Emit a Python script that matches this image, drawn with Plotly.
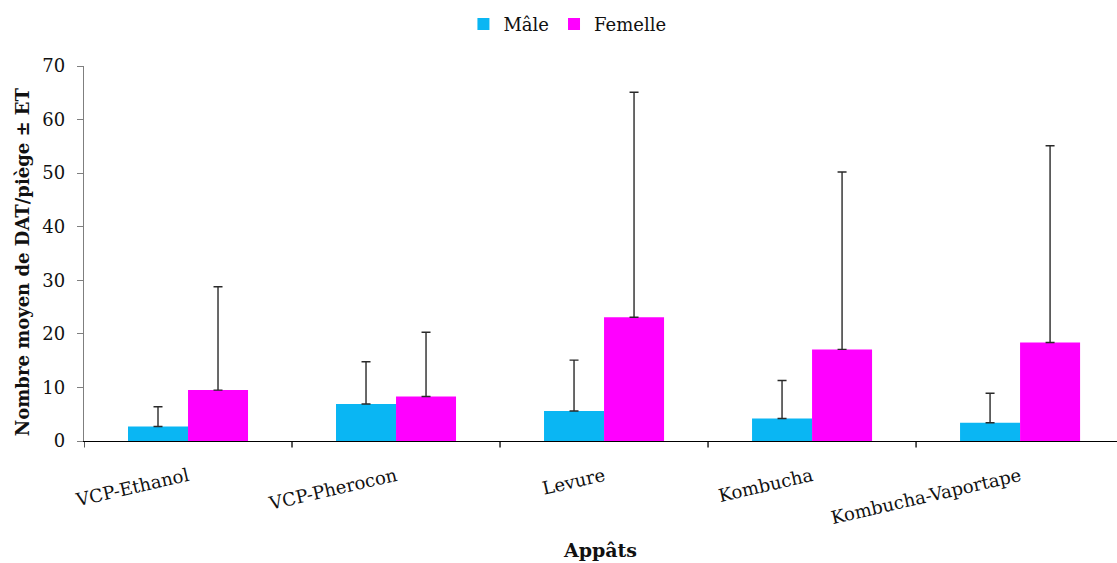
import plotly.graph_objects as go

# Appâts testés
categories = ["VCP-Ethanol", "VCP-Pherocon", "Levure", "Kombucha", "Kombucha-Vaportape"]

# Moyennes par piège
male_mean = [2.7, 6.9, 5.6, 4.2, 3.4]
female_mean = [9.5, 8.3, 23.1, 17.1, 18.4]

# Ecarts-types (barre supérieure uniquement)
male_sd = [3.7, 7.9, 9.5, 7.1, 5.5]
female_sd = [19.3, 12.0, 42.0, 33.1, 36.7]

FONT = "DejaVu Serif"

fig = go.Figure()
fig.add_trace(go.Bar(
    name="Mâle", x=categories, y=male_mean,
    marker=dict(color="#0AB6F3", line=dict(width=0)),
    error_y=dict(type="data", array=male_sd, arrayminus=[0] * len(male_sd),
                 symmetric=False, color="#2a2a2a", thickness=1.4, width=4.5),
))
fig.add_trace(go.Bar(
    name="Femelle", x=categories, y=female_mean,
    marker=dict(color="#FF00FF", line=dict(width=0)),
    error_y=dict(type="data", array=female_sd, arrayminus=[0] * len(female_sd),
                 symmetric=False, color="#2a2a2a", thickness=1.4, width=4.5),
))

fig.update_layout(
    width=1117, height=563,
    margin=dict(l=84, r=0, t=66, b=122, autoexpand=False),
    paper_bgcolor="white", plot_bgcolor="white",
    barmode="group", bargap=0.423, bargroupgap=0,
    font=dict(family=FONT, size=16, color="#111111"),
    legend=dict(orientation="h", xref="container", yref="container",
                x=0.508, xanchor="center", y=0.957, yanchor="middle",
                font=dict(family=FONT, size=18), itemwidth=30,
                traceorder="normal"),
    xaxis=dict(
        range=[-0.5, 4.466], showline=True, linecolor="#000000", linewidth=1.3,
        ticks="", tickangle=-13, tickfont=dict(family=FONT, size=18),
        ticklabelstandoff=17,
        showgrid=False,
        title=dict(text="<b>Appâts</b>", font=dict(family=FONT, size=19), standoff=16),
    ),
    yaxis=dict(
        range=[0, 70], dtick=10, showline=True, linecolor="#7f7f7f", linewidth=1.3,
        ticks="outside", ticklen=6, tickcolor="#7f7f7f", tickwidth=1.3,
        ticklabelstandoff=8,
        showgrid=False, zeroline=False,
        tickfont=dict(family=FONT, size=18),
    ),
)

# Titre de l'axe des ordonnées
fig.add_annotation(
    text="<b>Nombre moyen de DAT/piège ± ET</b>", textangle=-90,
    xref="paper", yref="paper", x=-0.06, y=0.477,
    xanchor="center", yanchor="middle", showarrow=False,
    font=dict(family=FONT, size=18),
)

# Graduations entre les catégories sur l'axe des abscisses
for b in [-0.5, 0.5, 1.5, 2.5, 3.5]:
    fig.add_shape(type="line", xref="x", yref="paper", x0=b, x1=b, y0=0, y1=-0.017,
                  line=dict(color="#000000", width=1.3))

fig.write_html("out.html")
